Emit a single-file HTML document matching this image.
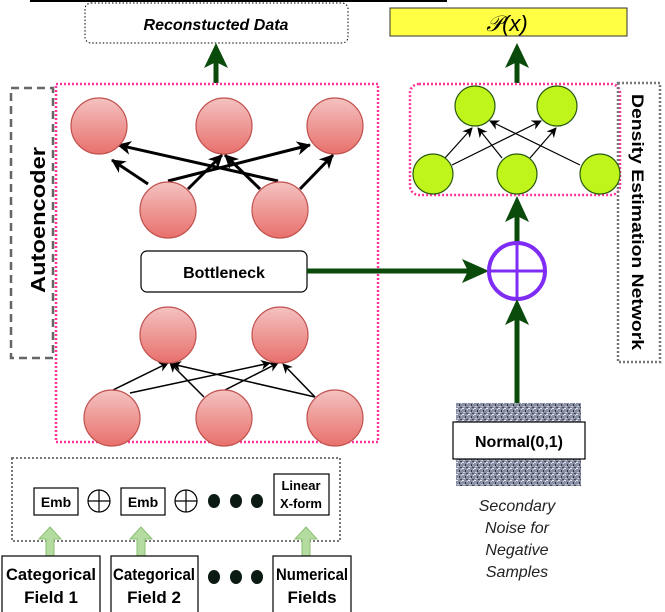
<!DOCTYPE html>
<html><head><meta charset="utf-8"><style>
body{margin:0;background:#fff}
svg{display:block}
text{font-family:"Liberation Sans",sans-serif}
</style></head><body>
<svg width="665" height="612" viewBox="0 0 665 612" xmlns="http://www.w3.org/2000/svg">
<defs>
<linearGradient id="rg" x1="0" y1="0" x2="0" y2="1"><stop offset="0" stop-color="#f4c2c0"/><stop offset="1" stop-color="#e8706c"/></linearGradient>
<pattern id="nz" width="6" height="6" patternUnits="userSpaceOnUse"><rect width="6" height="6" fill="#8a90a4"/><rect x="0" y="0" width="2" height="1" fill="#e8e8f0"/><rect x="3" y="2" width="1" height="2" fill="#334"/><rect x="1" y="4" width="2" height="1" fill="#c8ccd8"/><rect x="4" y="5" width="2" height="1" fill="#445"/><rect x="5" y="1" width="1" height="1" fill="#dde"/></pattern>
<marker id="ab" markerWidth="10" markerHeight="10" refX="9" refY="5" orient="auto" markerUnits="userSpaceOnUse"><path d="M0,0 L10,5 L0,10 L3,5z" fill="#000"/></marker>
<marker id="ab2" markerWidth="14" markerHeight="14" refX="13" refY="7" orient="auto" markerUnits="userSpaceOnUse"><path d="M0,0 L14,7 L0,14 L4,7z" fill="#000"/></marker>
</defs>
<line x1="30" y1="1" x2="447" y2="1" stroke="#000" stroke-width="2"/>
<rect x="85" y="3" width="263" height="40" rx="6" fill="#fff" stroke="#000" stroke-dasharray="1.5,2"/>
<text x="216" y="30" font-size="16" font-weight="bold" font-style="italic" text-anchor="middle">Reconstucted Data</text>
<line x1="216" y1="83" x2="216" y2="60" stroke="#0a4a0a" stroke-width="5"/>
<path d="M204,68 L216,43 L228,68 L216,62z" fill="#0a4a0a"/>
<rect x="56" y="84" width="322" height="358" fill="none" stroke="#ff3399" stroke-width="2.5" stroke-dasharray="2,2"/>
<rect x="11" y="88" width="42" height="270" fill="none" stroke="#666" stroke-width="2.5" stroke-dasharray="8,5"/>
<text transform="translate(45,220) rotate(-90)" font-size="20" font-weight="bold" text-anchor="middle" textLength="146" lengthAdjust="spacingAndGlyphs">Autoencoder</text>
<g stroke="#000" stroke-width="3">
<line x1="148" y1="184" x2="112" y2="160" marker-end="url(#ab2)"/>
<line x1="188" y1="189" x2="222" y2="155" marker-end="url(#ab2)"/>
<line x1="168" y1="181" x2="310" y2="145" marker-end="url(#ab2)"/>
<line x1="278" y1="181" x2="118" y2="145" marker-end="url(#ab2)"/>
<line x1="260" y1="189" x2="225" y2="155" marker-end="url(#ab2)"/>
<line x1="300" y1="189" x2="333" y2="155" marker-end="url(#ab2)"/>
</g>
<g stroke="#000" stroke-width="1.5">
<line x1="113" y1="390" x2="168" y2="363" marker-end="url(#ab)"/>
<line x1="130" y1="393" x2="270" y2="363" marker-end="url(#ab)"/>
<line x1="204" y1="397" x2="170" y2="363" marker-end="url(#ab)"/>
<line x1="225" y1="390" x2="278" y2="363" marker-end="url(#ab)"/>
<line x1="315" y1="397" x2="172" y2="364" marker-end="url(#ab)"/>
<line x1="315" y1="397" x2="283" y2="364" marker-end="url(#ab)"/>
</g>
<g fill="url(#rg)" stroke="#c0504d" stroke-width="1.2">
<circle cx="99" cy="126" r="28"/><circle cx="224" cy="126" r="28"/><circle cx="335" cy="126" r="28"/>
<circle cx="168" cy="210" r="28"/><circle cx="280" cy="210" r="28"/>
<circle cx="168" cy="335" r="28"/><circle cx="280" cy="335" r="28"/>
<circle cx="112" cy="418" r="28"/><circle cx="224" cy="418" r="28"/><circle cx="335" cy="418" r="28"/>
</g>
<rect x="141" y="251" width="166" height="41" rx="6" fill="#fff" stroke="#000" stroke-width="1.2"/>
<text x="224" y="278" font-size="16" font-weight="bold" text-anchor="middle">Bottleneck</text>
<line x1="307" y1="271" x2="472" y2="271" stroke="#0a4a0a" stroke-width="5"/>
<path d="M462,259 L489,271 L462,283 L468,271z" fill="#0a4a0a"/>
<rect x="390" y="8" width="237" height="28" fill="#ffff44" stroke="#333"/>
<text x="507" y="31" font-size="22" font-style="italic" text-anchor="middle" font-family="Liberation Serif,serif">𝒫(x)</text>
<line x1="517" y1="83" x2="517" y2="60" stroke="#0a4a0a" stroke-width="5"/>
<path d="M505,68 L517,43 L529,68 L517,62z" fill="#0a4a0a"/>
<rect x="410" y="84" width="210" height="111" rx="9" fill="none" stroke="#ff3399" stroke-width="2.5" stroke-dasharray="2,2"/>
<rect x="618" y="83" width="42" height="279" fill="none" stroke="#777" stroke-width="2.5" stroke-dasharray="2,2"/>
<text transform="translate(632,222) rotate(90)" font-size="17" font-weight="bold" text-anchor="middle" textLength="256" lengthAdjust="spacingAndGlyphs">Density Estimation Network</text>
<g stroke="#000" stroke-width="1.2">
<line x1="445" y1="158" x2="472" y2="128" marker-end="url(#ab)"/>
<line x1="452" y1="165" x2="541" y2="121" marker-end="url(#ab)"/>
<line x1="502" y1="158" x2="478" y2="128" marker-end="url(#ab)"/>
<line x1="530" y1="158" x2="556" y2="128" marker-end="url(#ab)"/>
<line x1="580" y1="165" x2="490" y2="121" marker-end="url(#ab)"/>
</g>
<g fill="#bff51a" stroke="#2a5a10" stroke-width="1.2">
<circle cx="475" cy="106" r="20"/><circle cx="557" cy="106" r="20"/>
<circle cx="433" cy="174" r="20"/><circle cx="517" cy="174" r="20"/><circle cx="600" cy="174" r="20"/>
</g>
<line x1="517" y1="243" x2="517" y2="215" stroke="#0a4a0a" stroke-width="5"/>
<path d="M505,222 L517,196 L529,222 L517,216z" fill="#0a4a0a"/>
<circle cx="517" cy="271" r="28" fill="#fff" stroke="#7f2cf5" stroke-width="4"/>
<line x1="489" y1="271" x2="545" y2="271" stroke="#7f2cf5" stroke-width="3"/>
<line x1="517" y1="243" x2="517" y2="299" stroke="#7f2cf5" stroke-width="3"/>
<rect x="456" y="403" width="125" height="83" fill="url(#nz)"/>
<line x1="517" y1="403" x2="517" y2="318" stroke="#0a4a0a" stroke-width="5"/>
<path d="M505,325 L517,299 L529,325 L517,319z" fill="#0a4a0a"/>
<rect x="453" y="422" width="132" height="37" fill="#fff" stroke="#000" stroke-width="1.2"/>
<text x="519" y="447" font-size="16" font-weight="bold" text-anchor="middle">Normal(0,1)</text>
<g font-size="16" font-style="italic" text-anchor="middle" fill="#222">
<text x="517" y="511">Secondary</text><text x="517" y="533">Noise for</text><text x="517" y="555">Negative</text><text x="517" y="577">Samples</text>
</g>
<rect x="12" y="458" width="328" height="83" fill="none" stroke="#777" stroke-width="2" stroke-dasharray="2,2"/>
<g fill="#fff" stroke="#000" stroke-width="1.2">
<rect x="34" y="488" width="44" height="27"/><rect x="121" y="488" width="44" height="27"/><rect x="274" y="474" width="55" height="41"/>
<circle cx="99" cy="501" r="11"/><circle cx="186" cy="501" r="11"/>
</g>
<g stroke="#000" stroke-width="1.2"><line x1="88" y1="501" x2="110" y2="501"/><line x1="99" y1="490" x2="99" y2="512"/><line x1="175" y1="501" x2="197" y2="501"/><line x1="186" y1="490" x2="186" y2="512"/></g>
<g font-size="14" font-weight="bold" text-anchor="middle">
<text x="56" y="507">Emb</text><text x="143" y="507">Emb</text>
<text x="301" y="490" font-size="13">Linear</text><text x="301" y="508" font-size="13">X-form</text>
</g>
<g fill="#0b1a12"><ellipse cx="214" cy="501" rx="6" ry="7"/><ellipse cx="236" cy="501" rx="6" ry="7"/><ellipse cx="257" cy="501" rx="6" ry="7"/>
<ellipse cx="214" cy="577" rx="6" ry="7"/><ellipse cx="236" cy="577" rx="6" ry="7"/><ellipse cx="257" cy="577" rx="6" ry="7"/></g>
<g fill="#b5dca0" stroke="#8cc070">
<path d="M46,556 L46,539 L39,539 L50,527 L61,539 L54,539 L54,556z"/>
<path d="M137,556 L137,539 L130,539 L141,527 L152,539 L145,539 L145,556z"/>
<path d="M302,556 L302,539 L295,539 L306,527 L317,539 L310,539 L310,556z"/>
</g>
<g fill="#fff" stroke="#000" stroke-width="1.2">
<rect x="2" y="556" width="98" height="58"/><rect x="111" y="556" width="87" height="58"/><rect x="273" y="556" width="78" height="58"/>
</g>
<g font-size="17" font-weight="bold" text-anchor="middle" lengthAdjust="spacingAndGlyphs">
<text x="51" y="580" textLength="90" lengthAdjust="spacingAndGlyphs">Categorical</text><text x="51" y="603">Field 1</text>
<text x="154" y="580" textLength="82" lengthAdjust="spacingAndGlyphs">Categorical</text><text x="154" y="603">Field 2</text>
<text x="312" y="580" textLength="72" lengthAdjust="spacingAndGlyphs">Numerical</text><text x="312" y="603">Fields</text>
</g>
</svg>
</body></html>
